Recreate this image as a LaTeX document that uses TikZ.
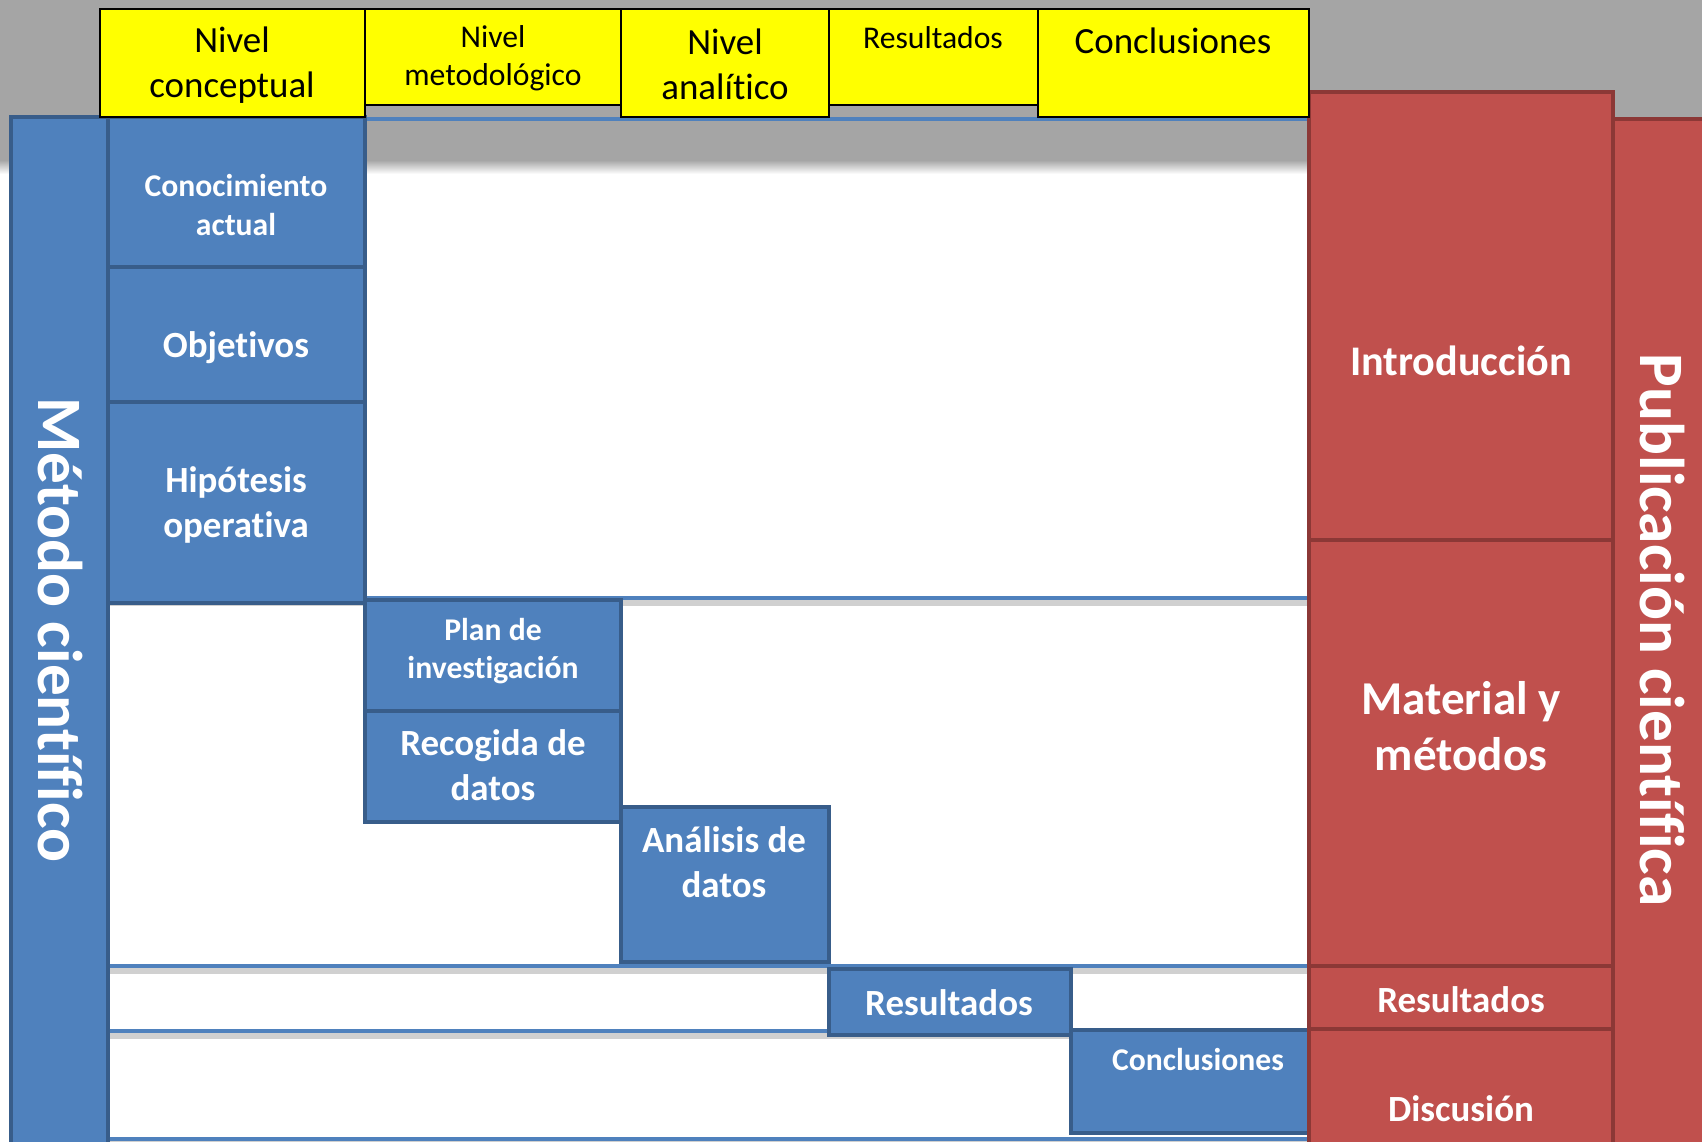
\documentclass[tikz,border=0pt]{standalone}
\usepackage{fontspec}
\setmainfont[Ligatures={NoCommon}]{Carlito}
\usepackage{tikz}
\definecolor{mcblue}{RGB}{79,129,189}
\definecolor{mcedge}{RGB}{56,93,138}
\definecolor{pcred}{RGB}{192,80,77}
\definecolor{pcedge}{RGB}{140,56,54}
\definecolor{hdgray}{RGB}{165,165,165}
\definecolor{shgray}{RGB}{208,208,208}
\definecolor{lvlyellow}{RGB}{255,255,0}
\newcommand{\fsz}[2]{\fontsize{#1}{#2}\selectfont}

\begin{document}
\begin{tikzpicture}[
  x=0.01cm, y=-0.01cm,
  mbox/.style={draw=mcedge, fill=mcblue, line width=1.1pt},
  pbox/.style={draw=pcedge, fill=pcred, line width=1.1pt},
  level/.style={draw=black, fill=lvlyellow, line width=0.7pt},
  lvltext/.style={align=center, text=black, inner sep=0pt},
  wtext/.style={align=center, text=white, inner sep=0pt},
  rule/.style={draw=mcblue, line width=1.4pt},
  ruleshadow/.style={draw=shgray, line width=1.5pt}
]
\useasboundingbox (0,0) rectangle (1702,1142);
% header band
\fill[hdgray] (0,0) rectangle (1702,160);
\shade[top color=hdgray, bottom color=white] (0,160) rectangle (1702,174);
\draw[rule, line width=1pt] (365,119) -- (1309,119);
% row rules
\foreach \ry in {598,966,1031,1139}{
  \draw[ruleshadow] (108,\ry+5) -- (1309,\ry+5);
  \draw[rule] (108,\ry) -- (1309,\ry);
}
% metodo cientifico
\draw[mbox] (11,117) rectangle (108,1160);
\draw[mbox] (108,117) rectangle (365,267);
\draw[mbox] (108,267) rectangle (365,402);
\draw[mbox] (108,402) rectangle (365,603);
\draw[mbox] (365,600) rectangle (621,711);
\draw[mbox] (365,711) rectangle (621,822);
\draw[mbox] (621,807) rectangle (829,962);
\draw[mbox] (829,969) rectangle (1071,1035);
\draw[mbox] (1071,1030) rectangle (1309,1133);
% publicacion cientifica
\draw[pbox] (1309,92) rectangle (1613,540);
\draw[pbox] (1309,540) rectangle (1613,966);
\draw[pbox] (1309,966) rectangle (1613,1029);
\draw[pbox] (1309,1029) rectangle (1613,1160);
\draw[pbox] (1613,119) rectangle (1720,1160);
% niveles
\draw[level] (100,9) rectangle (365,117);
\draw[level] (365,9) rectangle (621,105);
\draw[level] (621,9) rectangle (829,117);
\draw[level] (829,9) rectangle (1038,105);
\draw[level] (1038,9) rectangle (1309,117);

\node[lvltext, font=\fsz{10.5}{12.8}] (nconc) at (232,65) {Nivel\\conceptual};
\node[lvltext, font=\fsz{9}{10.8}] (nmet) at (493,58) {Nivel\\metodológico};
\node[lvltext, font=\fsz{10.5}{12.8}] (nanal) at (725,64) {Nivel\\analítico};
\node[lvltext, font=\fsz{9}{10.8}] (nres) at (933,38) {Resultados};
\node[lvltext, font=\fsz{10.5}{12.8}] (nconcl) at (1173,41) {Conclusiones};

\node[wtext, font=\fsz{18}{22}\bfseries, rotate=-90] (metodo) at (60,630) {Método científico};
\node[wtext, font=\fsz{9}{11}\bfseries] (conoc) at (236,205) {Conocimiento\\actual};
\node[wtext, font=\fsz{10.5}{12.7}\bfseries] (obj) at (236,348) {Objetivos};
\node[wtext, font=\fsz{10.5}{12.7}\bfseries] (hipo) at (236,505) {Hipótesis\\operativa};
\node[wtext, font=\fsz{9}{11}\bfseries] (plan) at (493,651) {Plan de\\investigación};
\node[wtext, font=\fsz{10.5}{12.7}\bfseries] (recog) at (493,765) {Recogida de\\datos};
\node[wtext, font=\fsz{10.5}{12.7}\bfseries] (anal) at (724,862) {Análisis de\\datos};
\node[wtext, font=\fsz{10.5}{12.7}\bfseries] (resm) at (949,1003) {Resultados};
\node[wtext, font=\fsz{9}{11}\bfseries] (conclm) at (1198,1060) {Conclusiones};

\node[wtext, font=\fsz{12}{14.5}\bfseries] (intro) at (1461,361) {Introducción};
\node[wtext, font=\fsz{13.4}{16}\bfseries] (matmet) at (1461,726) {Material y\\métodos};
\node[wtext, font=\fsz{10.5}{12.7}\bfseries] (resp) at (1461,1000) {Resultados};
\node[wtext, font=\fsz{10.5}{12.7}\bfseries] (disc) at (1461,1109) {Discusión};
\node[wtext, font=\fsz{18}{22}\bfseries, rotate=-90] (public) at (1662,630) {Publicación científica};
\end{tikzpicture}
\end{document}
